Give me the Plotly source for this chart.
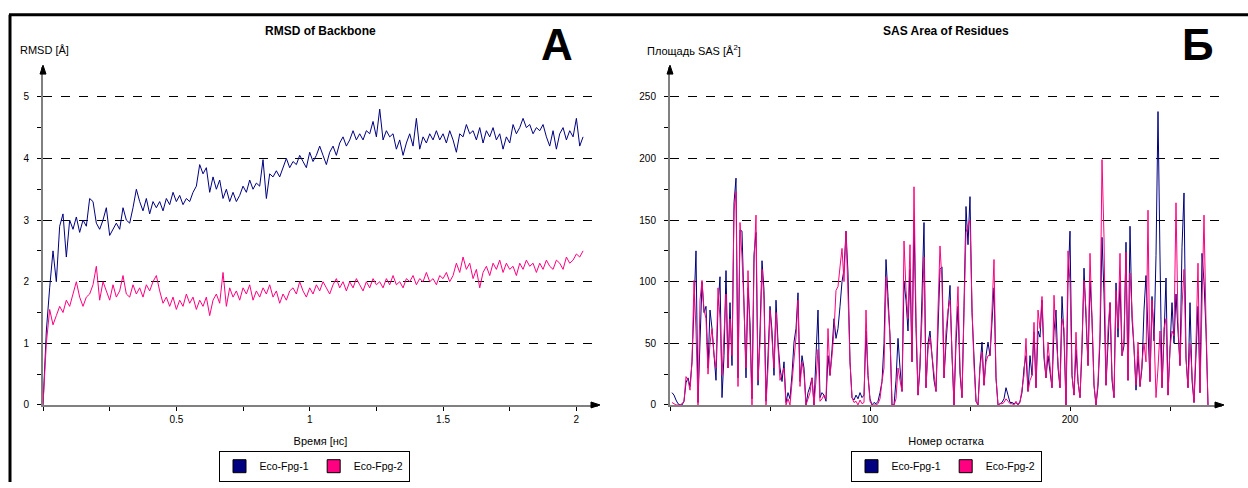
import plotly.graph_objects as go

W, H = 1248, 488

# ---------------- data ----------------
# RMSD of backbone, sampled every 0.0125 ns from 0 ns
rmsd_step = 0.0125
rmsd_fpg1 = [0.0, 1.2, 1.9, 2.5, 2.0, 2.9, 3.1, 2.4, 3.0, 2.85, 3.05, 2.8, 3.0, 2.9, 3.35, 3.3,
             2.95, 2.85, 3.0, 3.2, 2.75, 2.85, 2.95, 2.85, 3.2, 3.0, 2.95, 3.2, 3.5, 3.3, 3.15, 3.35,
             3.1, 3.3, 3.2, 3.3, 3.15, 3.35, 3.25, 3.45, 3.3, 3.4, 3.25, 3.35, 3.3, 3.45, 3.55, 3.9,
             3.75, 3.85, 3.45, 3.7, 3.5, 3.65, 3.35, 3.5, 3.3, 3.45, 3.3, 3.4, 3.55, 3.45, 3.65, 3.5,
             3.6, 3.55, 3.98, 3.35, 3.75, 3.7, 3.8, 3.7, 3.85, 4.0, 3.85, 3.95, 3.9, 4.05, 3.95, 3.85,
             4.1, 3.95, 4.05, 4.2, 4.05, 3.9, 4.1, 4.2, 4.05, 4.25, 4.35, 4.2, 4.3, 4.45, 4.3, 4.4,
             4.3, 4.45, 4.4, 4.6, 4.35, 4.8, 4.3, 4.45, 4.35, 4.4, 4.15, 4.3, 4.05, 4.25, 4.4, 4.2,
             4.65, 4.15, 4.35, 4.25, 4.4, 4.3, 4.45, 4.3, 4.4, 4.25, 4.45, 4.3, 4.1, 4.4, 4.35, 4.55,
             4.4, 4.45, 4.3, 4.5, 4.25, 4.45, 4.35, 4.5, 4.3, 4.4, 4.15, 4.35, 4.25, 4.55, 4.4, 4.5,
             4.65, 4.5, 4.55, 4.4, 4.5, 4.45, 4.55, 4.35, 4.2, 4.45, 4.15, 4.4, 4.5, 4.3, 4.45, 4.35,
             4.65, 4.2, 4.35]
rmsd_fpg2 = [0.0, 1.0, 1.55, 1.3, 1.45, 1.6, 1.5, 1.7, 1.6, 1.8, 2.0, 1.75, 1.6, 1.75, 1.8, 1.95,
             2.25, 1.7, 2.0, 1.85, 1.7, 1.95, 1.75, 1.85, 2.1, 1.8, 1.75, 1.95, 1.8, 1.9, 1.75, 1.95,
             1.85, 2.0, 2.1, 1.85, 1.65, 1.75, 1.6, 1.75, 1.55, 1.7, 1.6, 1.8, 1.65, 1.75, 1.55, 1.7,
             1.6, 1.75, 1.45, 1.7, 1.8, 1.65, 2.15, 1.6, 1.9, 1.75, 1.85, 1.7, 1.9, 1.8, 1.95, 1.7,
             1.85, 1.75, 1.9, 1.8, 1.95, 1.75, 1.85, 1.65, 1.8, 1.7, 1.85, 1.9, 1.8, 2.0, 1.85, 1.75,
             1.9, 1.8, 1.95, 1.85, 2.0, 1.9, 1.8, 1.95, 2.05, 1.9, 2.0, 1.85, 2.0, 1.9, 2.05, 1.95,
             1.85, 2.0, 1.9, 2.05, 1.95, 2.0, 1.9, 2.05, 1.95, 2.1, 1.95, 2.0, 1.9, 2.05, 2.0, 2.1,
             1.95, 2.05, 2.0, 2.15, 2.0, 2.05, 1.95, 2.1, 2.05, 2.15, 2.0, 2.1, 2.3, 2.15, 2.4, 2.2,
             2.3, 2.05, 2.2, 1.9, 2.15, 2.25, 2.1, 2.3, 2.2, 2.35, 2.15, 2.3, 2.2, 2.25, 2.1, 2.3,
             2.2, 2.35, 2.25, 2.3, 2.15, 2.3, 2.2, 2.35, 2.25, 2.2, 2.35, 2.3, 2.2, 2.4, 2.3, 2.35,
             2.45, 2.4, 2.5]

# SAS area per residue, residues 1..269
sas_fpg1 = [10, 8, 4, 1, 0, 0, 3, 18, 22, 15,
            35, 90, 125, 2, 60, 100, 75, 80, 30, 77,
            62, 43, 20, 80, 104, 6, 40, 109, 30, 83,
            32, 164, 184, 22, 142, 141, 88, 22, 95, 67,
            5, 122, 140, 16, 60, 117, 93, 3, 40, 80,
            60, 24, 85, 51, 30, 19, 35, 2, 10, 5,
            25, 51, 62, 91, 19, 40, 30, 0, 10, 15,
            22, 0, 40, 77, 6, 10, 8, 3, 40, 24,
            45, 70, 54, 62, 80, 100, 110, 141, 107, 35,
            6, 4, 8, 5, 10, 6, 8, 60, 24, 5,
            0, 2, 1, 3, 10, 19, 50, 118, 88, 56,
            0, 0, 20, 54, 30, 11, 100, 85, 60, 110,
            35, 150, 62, 8, 30, 90, 148, 14, 50, 60,
            40, 20, 11, 60, 110, 112, 22, 50, 70, 97,
            40, 0, 50, 80, 25, 6, 80, 161, 130, 169,
            75, 32, 3, 0, 32, 51, 16, 40, 51, 40,
            70, 95, 22, 0, 1, 2, 5, 14, 8, 2,
            2, 1, 2, 0, 3, 10, 30, 40, 11, 40,
            24, 59, 14, 60, 55, 85, 38, 22, 40, 28,
            14, 60, 77, 30, 14, 88, 55, 0, 100, 141,
            24, 8, 45, 19, 6, 45, 111, 70, 32, 100,
            70, 16, 0, 15, 52, 136, 90, 16, 55, 83,
            20, 6, 99, 55, 100, 40, 48, 132, 20, 145,
            70, 46, 12, 40, 15, 30, 77, 105, 60, 19,
            88, 52, 121, 238, 120, 14, 55, 103, 8, 46,
            83, 50, 90, 60, 32, 128, 172, 38, 14, 83,
            20, 2, 45, 80, 10, 123, 100, 60, 0]
sas_fpg2 = [2, 1, 0, 0, 0, 1, 3, 23, 20, 12,
            35, 101, 60, 0, 85, 101, 77, 70, 25, 50,
            62, 40, 30, 95, 70, 24, 60, 90, 30, 70,
            40, 157, 173, 15, 148, 120, 80, 30, 109, 60,
            0, 115, 154, 20, 50, 110, 85, 0, 30, 77,
            55, 30, 75, 45, 20, 25, 30, 0, 5, 0,
            20, 40, 55, 85, 15, 35, 25, 0, 5, 10,
            22, 0, 20, 45, 3, 5, 8, 5, 62, 24,
            40, 60, 93, 96, 112, 127, 100, 141, 90, 35,
            6, 2, 3, 0, 4, 1, 2, 77, 24, 3,
            0, 0, 0, 1, 5, 19, 30, 104, 80, 56,
            0, 0, 5, 30, 20, 11, 133, 93, 70, 130,
            35, 177, 72, 8, 35, 70, 120, 14, 45, 55,
            40, 25, 11, 77, 129, 100, 22, 60, 77, 85,
            45, 0, 60, 96, 30, 6, 75, 140, 146, 150,
            80, 32, 3, 0, 30, 43, 16, 35, 40, 40,
            77, 118, 22, 0, 1, 1, 2, 5, 3, 1,
            1, 0, 3, 0, 2, 14, 24, 54, 11, 20,
            24, 67, 14, 77, 62, 88, 43, 22, 51, 32,
            14, 89, 55, 35, 14, 70, 62, 0, 125, 99,
            24, 8, 59, 19, 6, 51, 101, 77, 32, 123,
            77, 16, 0, 19, 59, 199, 136, 16, 62, 83,
            24, 6, 93, 62, 123, 40, 54, 124, 20, 107,
            77, 46, 16, 51, 15, 35, 50, 35, 158, 19,
            85, 59, 6, 30, 60, 14, 62, 70, 8, 46,
            60, 56, 164, 67, 32, 80, 110, 38, 14, 50,
            24, 2, 51, 115, 10, 90, 154, 67, 0]

series_names = ["Eco-Fpg-1", "Eco-Fpg-2"]
series_colors = ["#000080", "#FF0080"]

rmsd_yticks = [0, 1, 2, 3, 4, 5]
rmsd_xticks = [0.5, 1, 1.5, 2]
sas_yticks = [0, 50, 100, 150, 200, 250]
sas_xticks = [100, 200]

# ---------------- layout helpers (pixel -> paper) ----------------
def px(x):
    return x / W

def py(y):
    return 1 - y / H

L_X0, L_X1 = 43, 598
R_X0, R_X1 = 670, 1222
Y_TOP, Y_BOT = 68, 410

FONT = "Liberation Sans, Arial, sans-serif"

fig = go.Figure()

# RMSD traces
for vals, name, col in zip([rmsd_fpg1, rmsd_fpg2], series_names, series_colors):
    fig.add_trace(go.Scatter(y=vals, x0=0, dx=rmsd_step, mode="lines", name=name,
                             line=dict(color=col, width=1), showlegend=False,
                             xaxis="x", yaxis="y", hoverinfo="skip"))
# SAS traces
for vals, name, col in zip([sas_fpg1, sas_fpg2], series_names, series_colors):
    fig.add_trace(go.Scatter(y=vals, x0=1, dx=1, mode="lines", name=name,
                             line=dict(color=col, width=1), showlegend=False,
                             xaxis="x2", yaxis="y2", hoverinfo="skip"))

# legend entries (square swatches)
for lg, xa, ya in [("legend", "x", "y"), ("legend2", "x2", "y2")]:
    for name, col in zip(series_names, series_colors):
        fig.add_trace(go.Scatter(x=[None], y=[None], mode="markers", name=name,
                                 marker=dict(symbol="square", size=13, color=col,
                                             line=dict(color="#000000", width=1)),
                                 legend=lg, xaxis=xa, yaxis=ya, showlegend=True))

axis_common = dict(
    showline=True, linecolor="#808080", linewidth=2,
    ticks="outside", ticklen=4, tickcolor="#000000", tickwidth=1,
    tickfont=dict(family=FONT, size=10, color="#000000"),
    zeroline=False, mirror=False, fixedrange=True,
)

legend_common = dict(orientation="h", xanchor="center", yanchor="middle",
                     bordercolor="#000000", borderwidth=1, bgcolor="#ffffff",
                     font=dict(family=FONT, size=10.5, color="#000000"),
                     itemwidth=30, tracegroupgap=0)

fig.update_layout(
    width=W, height=H,
    margin=dict(l=0, r=0, t=0, b=0),
    paper_bgcolor="#ffffff", plot_bgcolor="#ffffff",
    font=dict(family=FONT, size=10, color="#000000"),
    xaxis=dict(domain=[px(L_X0), px(L_X1)], range=[0, (L_X1 - L_X0) / 266.7],
               tickmode="array", tickvals=rmsd_xticks, showgrid=False,
               minor=dict(dtick=0.25, tick0=0, ticks="outside", ticklen=4, tickcolor="#000000", showgrid=False),
               title=dict(text="Время [нс]", font=dict(family=FONT, size=11), standoff=13),
               anchor="y", **axis_common),
    yaxis=dict(domain=[py(Y_BOT), py(Y_TOP)], range=[0, (Y_BOT - Y_TOP) / 62.4],
               tickmode="array", tickvals=rmsd_yticks, showgrid=True,
               gridcolor="#000000", griddash="dash", gridwidth=1,
               minor=dict(dtick=0.5, tick0=0, ticks="outside", ticklen=4, tickcolor="#000000", showgrid=False),
               ticklabelstandoff=6, anchor="x", **axis_common),
    xaxis2=dict(domain=[px(R_X0), px(R_X1)], range=[0, (R_X1 - R_X0) / 2.0],
                tickmode="array", tickvals=sas_xticks, showgrid=False,
                minor=dict(dtick=50, tick0=0, ticks="outside", ticklen=4, tickcolor="#000000", showgrid=False),
                title=dict(text="Номер остатка", font=dict(family=FONT, size=11), standoff=13),
                anchor="y2", **axis_common),
    yaxis2=dict(domain=[py(Y_BOT), py(Y_TOP)], range=[0, (Y_BOT - Y_TOP) / 1.248],
                tickmode="array", tickvals=sas_yticks, showgrid=True,
                gridcolor="#000000", griddash="dash", gridwidth=1,
                minor=dict(dtick=25, tick0=0, ticks="outside", ticklen=4, tickcolor="#000000", showgrid=False),
                ticklabelstandoff=6, anchor="x2", **axis_common),
    legend=dict(x=px(314), y=py(472), **legend_common),
    legend2=dict(x=px(946), y=py(472), **legend_common),
)

ann = []
def text(x, y, t, size=11, bold=False, xanchor="center"):
    ann.append(dict(x=px(x), y=py(y), xref="paper", yref="paper", text=f"<b>{t}</b>" if bold else t,
                    showarrow=False, xanchor=xanchor, yanchor="middle",
                    font=dict(family=FONT, size=size, color="#000000")))

text(320, 31, "RMSD of Backbone", size=12, bold=True)
text(946, 31, "SAS Area of Residues", size=12, bold=True)
text(18, 51, "RMSD [Å]", size=11, xanchor="left")
text(645, 51, "Площадь SAS [Å<sup>2</sup>]", size=11, xanchor="left")
text(557, 45, "А", size=44, bold=True)
text(1198, 45, "Б", size=44, bold=True)
fig.update_layout(annotations=ann)

# axis arrowheads (decoration, in pixel -> paper coordinates)
def tri(pts):
    p = " L ".join(f"{px(a):.5f},{py(b):.5f}" for a, b in pts)
    return f"M {p} Z"

arrows = [
    [(L_X0, Y_TOP - 2), (L_X0 - 3, Y_TOP + 7), (L_X0 + 3, Y_TOP + 7)],
    [(R_X0, Y_TOP - 2), (R_X0 - 3, Y_TOP + 7), (R_X0 + 3, Y_TOP + 7)],
    [(L_X1 + 2, Y_BOT), (L_X1 - 7, Y_BOT - 3), (L_X1 - 7, Y_BOT + 3)],
    [(R_X1 + 2, Y_BOT), (R_X1 - 7, Y_BOT - 3), (R_X1 - 7, Y_BOT + 3)],
]
for a in arrows:
    fig.add_shape(type="path", xref="paper", yref="paper", path=tri(a),
                  fillcolor="#000000", line=dict(color="#000000", width=1))

# outer frame lines (top and left)
fig.add_shape(type="line", xref="paper", yref="paper", x0=px(9), x1=1, y0=py(15), y1=py(15),
              line=dict(color="#000000", width=3))
fig.add_shape(type="line", xref="paper", yref="paper", x0=px(10), x1=px(10), y0=py(15), y1=0,
              line=dict(color="#000000", width=3))

fig.write_html("out.html")
